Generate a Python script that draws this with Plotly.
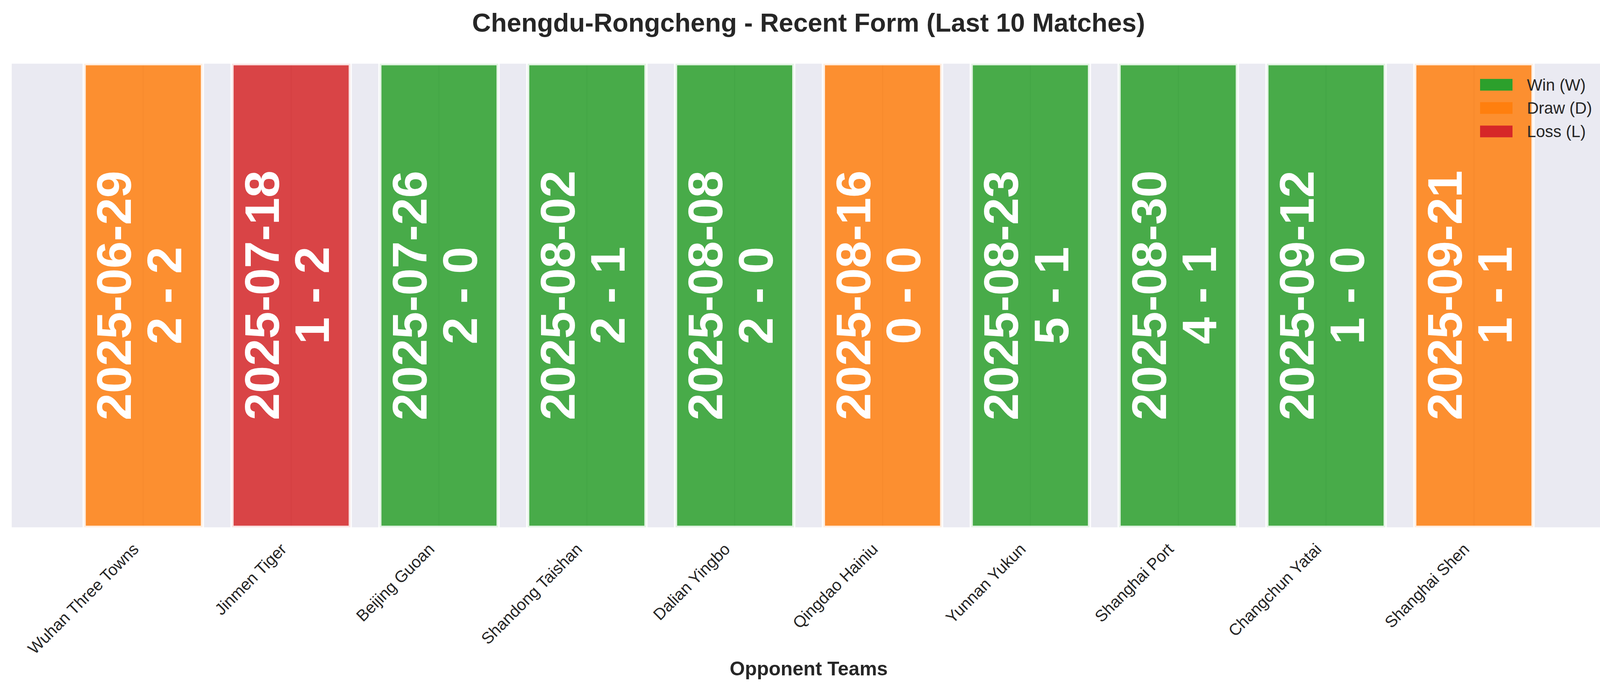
import plotly.graph_objects as go

# ---- data ----
teams = ["Wuhan Three Towns", "Jinmen Tiger", "Beijing Guoan", "Shandong Taishan",
         "Dalian Yingbo", "Qingdao Hainiu", "Yunnan Yukun", "Shanghai Port",
         "Changchun Yatai", "Shanghai Shen"]
dates = ["2025-06-29", "2025-07-18", "2025-07-26", "2025-08-02", "2025-08-08",
         "2025-08-16", "2025-08-23", "2025-08-30", "2025-09-12", "2025-09-21"]
scores = ["2 - 2", "1 - 2", "2 - 0", "2 - 1", "2 - 0",
          "0 - 0", "5 - 1", "4 - 1", "1 - 0", "1 - 1"]
results = ["D", "L", "W", "W", "W", "D", "W", "W", "W", "D"]
bar_height = [1, 1, 1, 1, 1, 1, 1, 1, 1, 1]

legend_labels = ["Win (W)", "Draw (D)", "Loss (L)"]
legend_keys = ["W", "D", "L"]
result_rgb = {"W": (44, 160, 44), "D": (255, 127, 14), "L": (214, 39, 40)}

FONT = "Liberation Sans, Arial, Helvetica, sans-serif"
TXT = "#262626"
W, H = 4139, 1769
ML, MR, MT, MB = 30, 29, 163, 419
PW = W - ML - MR
PH = H - MT - MB

bar_colors = ["rgba(%d,%d,%d,0.85)" % result_rgb[r] for r in results]

fig = go.Figure()
fig.add_trace(go.Bar(
    x=teams, y=bar_height, width=0.8,
    marker=dict(color=bar_colors,
                line=dict(color="rgba(255,255,255,0.85)", width=8.3)),
    showlegend=False, hoverinfo="skip",
))

annotations = []
for t, d, s in zip(teams, dates, scores):
    annotations.append(dict(x=t, y=0.5, xref="x", yref="y", text=d, showarrow=False,
                            textangle=-90, xshift=-75,
                            font=dict(family=FONT, size=125, color="white", weight="bold")))
    annotations.append(dict(x=t, y=0.5, xref="x", yref="y", text=s, showarrow=False,
                            textangle=-90, xshift=53.5,
                            font=dict(family=FONT, size=125, color="white", weight="bold")))

# custom legend (matplotlib-like patches)
shapes = []
patch_x0, patch_x1 = 3789, 3872
row_y = [217, 276.5, 336.5]
for lab, key, yc in zip(legend_labels, legend_keys, row_y):
    px0 = (patch_x0 - ML) / PW
    px1 = (patch_x1 - ML) / PW
    py0 = (H - MB - (yc + 15)) / PH
    py1 = (H - MB - (yc - 15)) / PH
    shapes.append(dict(type="rect", xref="paper", yref="paper", x0=px0, x1=px1,
                       y0=py0, y1=py1, fillcolor="rgb(%d,%d,%d)" % result_rgb[key],
                       line=dict(width=0), layer="above"))
    annotations.append(dict(x=(3907 - ML) / PW, y=(H - MB - yc) / PH, xref="paper", yref="paper",
                            text=lab, showarrow=False, xanchor="left", yanchor="middle",
                            font=dict(family=FONT, size=41.7, color=TXT)))

# x-axis title
annotations.append(dict(x=0.5, y=(H - MB - 1712) / PH, xref="paper", yref="paper",
                        text="<b>Opponent Teams</b>", showarrow=False,
                        xanchor="center", yanchor="middle",
                        font=dict(family=FONT, size=50, color=TXT)))

fig.update_layout(
    width=W, height=H,
    margin=dict(l=ML, r=MR, t=MT, b=MB, autoexpand=False),
    paper_bgcolor="white", plot_bgcolor="#EAEAF2",
    bargap=0.2,
    title=dict(text="<b>Chengdu-Rongcheng - Recent Form (Last 10 Matches)</b>",
               x=0.5, xref="paper", xanchor="center",
               y=1 - 58 / H, yref="container", yanchor="middle",
               font=dict(family=FONT, size=66.7, color=TXT)),
    xaxis=dict(type="category", categoryorder="array", categoryarray=teams,
               range=[-0.89, 9.89], tickangle=-45, showgrid=True,
               gridcolor="#D2D2DC", gridwidth=3, ticks="", showline=False,
               zeroline=False, ticklabelshift=-24, ticklabelstandoff=22,
               tickfont=dict(family=FONT, size=41.7, color=TXT)),
    yaxis=dict(range=[0, 1], showticklabels=False, showgrid=False, zeroline=False,
               ticks="", showline=False),
    shapes=shapes,
    annotations=annotations,
    showlegend=False,
)

fig.write_html("out.html", config={"displayModeBar": False},
               post_script="document.body.style.margin='0';document.body.style.overflow='hidden';")
